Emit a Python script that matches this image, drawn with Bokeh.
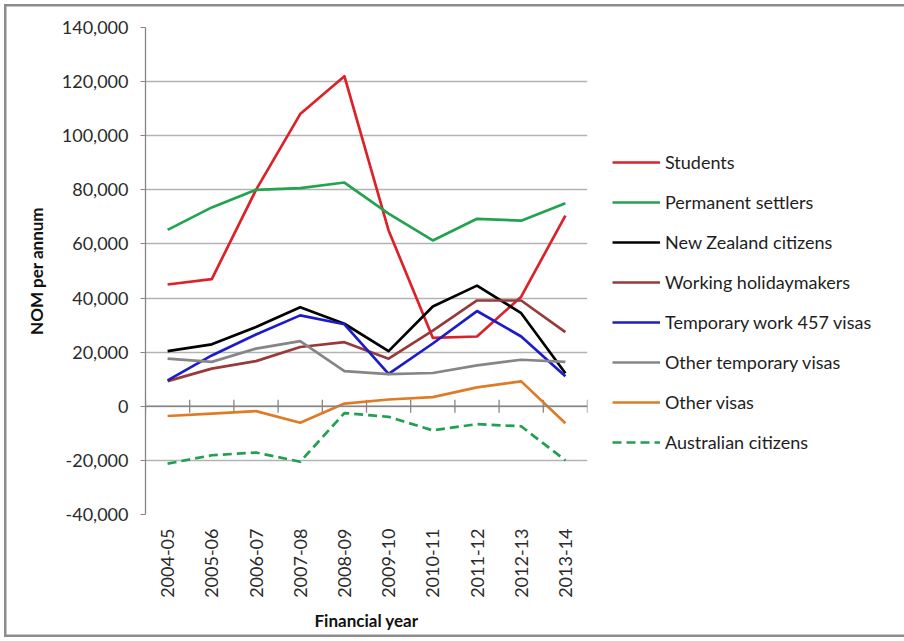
import math
from bokeh.plotting import figure
from bokeh.models import (FactorRange, Range1d, FixedTicker, NumeralTickFormatter,
                          Span, Legend, LegendItem, ColumnDataSource, InlineStyleSheet)
from bokeh.embed import file_html
from bokeh.resources import INLINE

years = ["2004-05", "2005-06", "2006-07", "2007-08", "2008-09",
         "2009-10", "2010-11", "2011-12", "2012-13", "2013-14"]

students = [45000, 47000, 80000, 108000, 122000, 65000, 25300, 25800, 40500, 70500]
permanent_settlers = [65200, 73500, 80000, 80600, 82700, 71200, 61300, 69300, 68600, 75000]
nz_citizens = [20400, 22900, 29300, 36600, 30500, 20400, 36900, 44600, 34400, 12200]
working_holiday = [9300, 13900, 16700, 21900, 23700, 17600, 28000, 39100, 39100, 27400]
temp_work_457 = [9600, 18800, 26500, 33600, 30300, 12000, 23200, 35200, 25800, 11100]
other_temporary = [17600, 16400, 21300, 24100, 13000, 11900, 12300, 15100, 17200, 16400]
other_visas = [-3600, -2700, -1800, -6100, 1000, 2500, 3400, 7000, 9200, -6300]
australian_citizens = [-21200, -18100, -17100, -20500, -2500, -3900, -8900, -6600, -7400, -20000]

y_ticks = [-40000, -20000, 0, 20000, 40000, 60000, 80000, 100000, 120000, 140000]

series = [
    ("Students", students, "#dc2229", "solid"),
    ("Permanent settlers", permanent_settlers, "#22a34f", "solid"),
    ("New Zealand citizens", nz_citizens, "#000000", "solid"),
    ("Working holidaymakers", working_holiday, "#983a3a", "solid"),
    ("Temporary work 457 visas", temp_work_457, "#1c1cc8", "solid"),
    ("Other temporary visas", other_temporary, "#868686", "solid"),
    ("Other visas", other_visas, "#e07b25", "solid"),
    ("Australian citizens", australian_citizens, "#22a052", "9 5"),
]

FONT = "Lato"

p = figure(frame_width=442, frame_height=487, x_range=FactorRange(*years, range_padding=0),
           y_range=Range1d(y_ticks[0], y_ticks[-1]),
           output_backend="svg", toolbar_location=None,
           min_border_left=145, min_border_right=317, min_border_top=27, min_border_bottom=127)
p.outline_line_color = None
p.background_fill_color = "white"
p.border_fill_alpha = 0
p.stylesheets = [InlineStyleSheet(css=(
    ":host { background: white; outline: 1.5px solid #8c8c8c; outline-offset: -5px; "
    "box-shadow: inset 0 0 0 5px white, inset 0 0 0 6.5px #8c8c8c; }"))]

# grid
p.xgrid.grid_line_color = None
p.ygrid.grid_line_color = "#b3b3b3"
p.ygrid.grid_line_width = 1.3

# y axis
p.yaxis.ticker = FixedTicker(ticks=y_ticks)
p.yaxis.formatter = NumeralTickFormatter(format="0,0")
p.yaxis.axis_line_color = "#868686"
p.yaxis.axis_line_width = 1.3
p.yaxis.major_tick_line_color = "#868686"
p.yaxis.major_tick_out = 5
p.yaxis.major_tick_in = 0
p.yaxis.minor_tick_line_color = None
p.yaxis.major_label_standoff = 12
p.yaxis.major_label_text_font = FONT
p.yaxis.major_label_text_font_size = "18px"
p.yaxis.major_label_text_color = "#2b2b2b"
p.yaxis.axis_label = "NOM per annum"
p.yaxis.axis_label_text_font = FONT
p.yaxis.axis_label_text_font_style = "bold"
p.yaxis.axis_label_text_font_size = "17px"
p.yaxis.axis_label_text_color = "#111111"
p.yaxis.axis_label_standoff = 12

# x axis
p.xaxis.axis_line_color = None
p.xaxis.major_tick_line_color = None
p.xaxis.major_tick_out = 0
p.xaxis.major_tick_in = 0
p.xaxis.major_label_orientation = math.pi / 2
p.xaxis.major_label_standoff = 14
p.xaxis.major_label_text_font = FONT
p.xaxis.major_label_text_font_size = "18px"
p.xaxis.major_label_text_color = "#2b2b2b"
p.xaxis.axis_label = "Financial year"
p.xaxis.axis_label_text_font = FONT
p.xaxis.axis_label_text_font_style = "bold"
p.xaxis.axis_label_text_font_size = "17px"
p.xaxis.axis_label_text_color = "#111111"
p.xaxis.axis_label_standoff = 9

# zero axis line with category-boundary ticks
p.add_layout(Span(location=0, dimension="width", line_color="#868686", line_width=1.5))
boundaries = [(y, -0.5) for y in years] + [(years[-1], 0.5)]
p.scatter(x=boundaries, y=[0] * len(boundaries), marker="dash", angle=math.pi / 2,
          size=13, line_color="#868686", line_width=1.3)

items = []
for name, vals, color, dash in series:
    src = ColumnDataSource(dict(x=years, y=vals))
    r = p.line("x", "y", source=src, line_color=color, line_width=2.7, line_dash=dash,
               line_join="round")
    items.append(LegendItem(label=name, renderers=[r]))

legend = Legend(items=items, location=(25, 61), orientation="vertical",
                padding=0, margin=0, spacing=18, label_height=20, glyph_height=20,
                glyph_width=48, label_standoff=5,
                label_text_font=FONT, label_text_font_size="18px",
                label_text_color="#1e1e1e",
                border_line_color=None, background_fill_alpha=0)
p.add_layout(legend, "right")

open("out.html", "w").write(file_html(p, INLINE))
